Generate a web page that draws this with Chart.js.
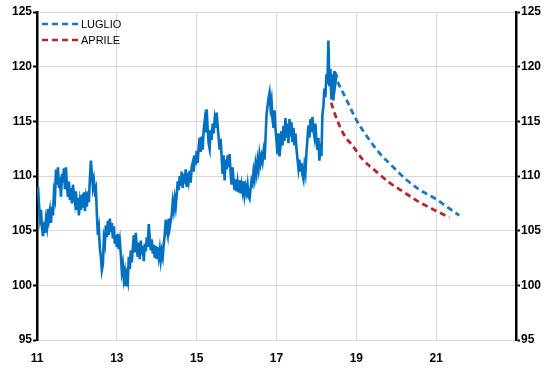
<!DOCTYPE html>
<html><head><meta charset="utf-8">
<script src="https://cdn.jsdelivr.net/npm/chart.js@4.4.1/dist/chart.umd.min.js"></script>
<style>html,body{margin:0;padding:0;background:#fff;}#wrap{width:551px;height:372px;}</style>
</head><body><div id="wrap"><canvas id="c" width="551" height="372"></canvas></div>
<script>
// Historical series: evenly spaced observations starting at year 11 (2011)
const histStart = 11.0;
const histStep = 0.025;
const histValues = [
108.6,109.0,107.4,106.2,106.9,105.3,104.5,105.8,104.8,106.0,
105.4,107.0,106.1,106.8,105.7,107.2,106.4,108.5,108.0,110.6,
109.2,110.8,108.9,109.9,108.1,110.2,109.4,110.7,108.8,110.8,
109.0,108.1,109.5,107.8,108.9,107.5,109.2,108.3,107.6,108.6,
106.9,108.0,106.4,107.6,106.9,108.3,107.1,108.5,106.8,107.9,
107.2,108.6,107.6,109.8,111.4,110.2,109.0,109.6,108.6,108.9,
106.5,104.6,105.2,103.4,102.6,101.4,101.9,104.3,103.8,105.5,
104.4,105.9,104.6,106.1,104.9,105.7,104.3,105.4,103.8,104.6,
103.5,104.7,103.3,104.0,102.8,101.3,101.9,100.6,101.2,99.9,
100.9,100.4,102.6,101.5,103.2,102.1,103.4,104.6,103.0,104.8,
103.3,102.6,103.9,102.4,104.1,102.8,103.6,102.2,103.8,103.1,
104.4,103.5,105.6,104.3,103.2,104.2,102.9,103.7,102.5,103.6,
102.4,103.5,102.6,103.3,102.3,103.1,102.6,103.8,104.6,106.0,
105.1,104.6,106.1,105.3,105.9,106.4,107.6,106.9,107.9,107.2,
108.3,109.5,108.7,110.0,109.1,110.4,108.9,110.2,109.3,110.6,
109.0,110.3,109.6,110.5,109.4,110.8,111.2,110.4,111.9,111.0,
112.3,111.2,112.6,113.5,112.2,113.6,112.4,114.2,115.0,114.0,
116.1,114.3,113.0,112.5,114.2,113.3,114.8,113.9,115.1,114.4,
115.8,114.6,113.5,112.4,113.4,111.8,110.2,111.9,109.6,111.5,
110.6,111.9,110.8,112.0,110.3,109.2,110.8,109.6,108.7,109.7,
108.6,109.4,108.5,109.6,108.4,109.2,108.6,109.5,108.3,109.0,
108.5,109.2,108.1,107.9,108.8,109.6,109.3,110.4,109.8,111.0,
110.3,111.4,110.7,111.9,111.2,111.8,111.3,112.2,111.5,113.4,
115.6,116.4,117.1,117.6,116.3,116.9,115.2,114.4,116.0,114.3,
113.2,112.0,113.9,111.8,112.7,114.1,112.8,114.6,113.2,115.3,
113.5,114.8,113.0,115.2,113.6,114.9,113.1,114.4,112.8,113.9,
112.5,111.6,110.7,111.5,110.4,111.2,110.1,109.7,110.9,110.3,
112.1,113.4,114.6,113.5,115.2,114.0,115.4,114.2,113.6,114.8,
113.2,112.4,113.5,111.4,113.0,111.8,115.6,116.4,118.0,117.2,
119.3,118.4,122.4,118.2,119.8,117.0,119.3,116.9,119.6,118.5,
119.2,119.0
];
// Forecast LUGLIO
const luglioX = [18.53,18.75,18.99,19.25,19.58,19.9,20.24,20.6,20.99,21.3,21.58];
const luglioY = [118.6,117.0,115.2,113.7,112.1,110.9,109.7,108.7,107.9,107.1,106.4];
// Forecast APRILE
const aprileX = [18.37,18.49,18.7,18.9,19.16,19.5,19.83,20.2,20.58,20.95,21.33];
const aprileY = [116.7,115.4,113.7,112.8,111.5,110.4,109.4,108.5,107.6,106.9,106.2];
// Axis ticks
const xTicks = [11,13,15,17,19,21];
const yTicks = [95,100,105,110,115,120,125];

const histData = histValues.map((v,i)=>({x: histStart + i*histStep, y: v}));
const lugData = luglioX.map((x,i)=>({x, y: luglioY[i]}));
const aprData = aprileX.map((x,i)=>({x, y: aprileY[i]}));

const FONT = "'Liberation Sans', Arial, sans-serif";

const legendPlugin = {
  id: 'inlineLegend',
  afterDatasetsDraw(chart) {
    const ctx = chart.ctx;
    const items = chart.data.datasets.filter(d => d.showInLegend);
    items.forEach((d, i) => {
      const y = 24 + i * 16;
      ctx.save();
      ctx.strokeStyle = d.borderColor;
      ctx.lineWidth = 2.6;
      ctx.setLineDash([6, 4]);
      ctx.beginPath(); ctx.moveTo(42, y); ctx.lineTo(78, y); ctx.stroke();
      ctx.setLineDash([]);
      ctx.fillStyle = '#000';
      ctx.font = "11px " + FONT;
      ctx.textBaseline = 'middle';
      ctx.fillText(d.label, 81, y + 0.5);
      ctx.restore();
    });
  }
};

new Chart(document.getElementById('c'), {
  type: 'line',
  data: {
    datasets: [
      {label: 'storico', data: histData, borderColor: '#0070C0', borderWidth: 2.6, pointRadius: 0, tension: 0, showInLegend: false, order: 3},
      {label: 'LUGLIO', data: lugData, borderColor: '#2077BE', borderWidth: 2.8, borderDash: [6,4], pointRadius: 0, cubicInterpolationMode: 'monotone', showInLegend: true, order: 2},
      {label: 'APRILE', data: aprData, borderColor: '#B5252F', borderWidth: 2.8, borderDash: [6,4], pointRadius: 0, cubicInterpolationMode: 'monotone', showInLegend: true, order: 1}
    ]
  },
  options: {
    responsive: false,
    animation: false,
    devicePixelRatio: 1,
    layout: {padding: {top: 12, left: 0, right: 0, bottom: 0}},
    plugins: {legend: {display: false}, tooltip: {enabled: false}},
    scales: {
      x: {
        type: 'linear', position: 'bottom', min: 11, max: 23,
        afterBuildTicks: s => { s.ticks = xTicks.concat([23]).map(v => ({value: v})); },
        ticks: {callback: v => xTicks.includes(v) ? String(v) : '', color: '#000', font: {family: FONT, size: 12, weight: 'bold'}, padding: 11, maxRotation: 0, autoSkip: false},
        grid: {color: '#D9D9D9', lineWidth: 1, drawTicks: false},
        border: {display: false},
        afterFit: s => { s.height = 32; }
      },
      y: {
        position: 'left', min: 95, max: 125,
        afterBuildTicks: s => { s.ticks = yTicks.map(v => ({value: v})); },
        ticks: {color: '#000', font: {family: FONT, size: 12, weight: 'bold'}, padding: 1},
        grid: {color: '#D9D9D9', lineWidth: 1, tickColor: '#000', tickLength: 4, tickWidth: 2},
        border: {color: '#000', width: 2.5},
        afterFit: s => { s.width = 37; }
      },
      y2: {
        position: 'right', min: 95, max: 125,
        afterBuildTicks: s => { s.ticks = yTicks.map(v => ({value: v})); },
        ticks: {color: '#000', font: {family: FONT, size: 12, weight: 'bold'}, padding: 1},
        grid: {drawOnChartArea: false, tickColor: '#000', tickLength: 4, tickWidth: 2},
        border: {color: '#000', width: 2.5},
        afterFit: s => { s.width = 35; }
      }
    }
  },
  plugins: [legendPlugin]
});
</script>
</body></html>
